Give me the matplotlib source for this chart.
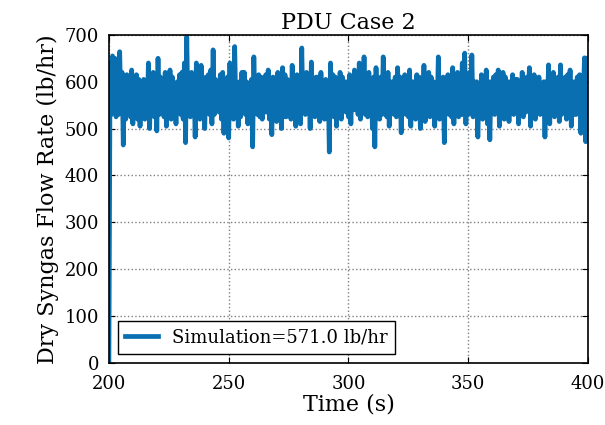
import matplotlib
matplotlib.use("Agg")
import matplotlib.pyplot as plt
import numpy as np

flow = [
    0, 640, 530, 655, 540, 650, 525, 630, 530, 664, 545, 620, 465, 600, 520, 615, 535, 610, 525, 625,
    510, 600, 530, 615, 520, 605, 505, 590, 535, 605, 520, 600, 540, 640, 500, 610, 530, 620, 525, 615,
    495, 650, 530, 610, 540, 600, 525, 620, 505, 595, 530, 625, 520, 610, 535, 590, 510, 600, 540, 615,
    530, 620, 520, 640, 470, 696, 535, 600, 525, 620, 530, 610, 482, 640, 540, 590, 520, 635, 525, 600,
    500, 610, 540, 615, 530, 625, 510, 668, 530, 605, 545, 600, 535, 615, 520, 620, 490, 600, 530, 610,
    480, 640, 535, 610, 520, 675, 540, 595, 505, 600, 525, 620, 540, 620, 530, 600, 510, 590, 520, 605,
    461, 653, 540, 600, 530, 615, 525, 610, 520, 600, 535, 615, 535, 625, 520, 600, 487, 610, 530, 595,
    515, 620, 540, 605, 500, 630, 525, 615, 525, 605, 540, 600, 520, 635, 530, 610, 505, 615, 535, 600,
    510, 672, 540, 600, 530, 620, 535, 600, 500, 642, 530, 595, 525, 610, 540, 610, 515, 620, 530, 600,
    520, 605, 530, 600, 450, 640, 540, 615, 525, 610, 505, 600, 535, 620, 520, 610, 540, 600, 535, 600,
    525, 615, 510, 605, 540, 625, 540, 615, 530, 640, 520, 600, 535, 653, 530, 610, 525, 620, 535, 600,
    500, 610, 461, 630, 540, 600, 520, 610, 530, 653, 545, 600, 525, 620, 505, 600, 535, 600, 530, 610,
    525, 630, 540, 610, 491, 600, 535, 615, 530, 610, 525, 625, 505, 600, 540, 600, 520, 615, 530, 610,
    500, 605, 540, 635, 515, 600, 535, 620, 525, 610, 530, 600, 505, 595, 540, 653, 520, 600, 535, 610,
    470, 600, 540, 615, 530, 610, 525, 630, 510, 600, 535, 620, 525, 610, 530, 640, 530, 661, 510, 600,
    530, 620, 540, 657, 525, 600, 535, 600, 482, 590, 535, 615, 520, 610, 530, 625, 510, 600, 476, 600,
    535, 610, 530, 615, 540, 625, 505, 600, 530, 620, 520, 610, 545, 600, 515, 600, 535, 615, 530, 605,
    540, 605, 510, 600, 530, 620, 525, 595, 535, 610, 540, 630, 505, 600, 535, 615, 520, 605, 540, 610,
    530, 590, 540, 600, 482, 600, 535, 636, 510, 610, 530, 620, 525, 600, 540, 610, 515, 636, 530, 600,
    535, 610, 520, 615, 540, 625, 505, 600, 530, 600, 530, 610, 540, 615, 490, 600, 560, 651, 472, 600,
    650,
]
t_start, t_step = 200.0, 0.5
time_s = t_start + t_step * np.arange(len(flow))
legend_label = "Simulation=571.0 lb/hr"
x_ticks = [200, 250, 300, 350, 400]
y_ticks = [0, 100, 200, 300, 400, 500, 600, 700]

plt.rcParams['font.family'] = ['DejaVu Serif']
fig = plt.figure(figsize=(6.05, 4.25), dpi=100)
ax = fig.add_axes([0.180, 0.146, 0.792, 0.772])
ax.plot(time_s, flow, color='#0a6fb0', lw=3.4, label=legend_label)
ax.set_xlim(200, 400)
ax.set_ylim(0, 700)
ax.set_xticks(x_ticks)
ax.set_yticks(y_ticks)
ax.tick_params(direction='in', top=True, right=True, labelsize=13, length=4)
ax.tick_params(axis='x', pad=9)
ax.tick_params(axis='y', pad=7)
ax.grid(True, linestyle=':', color='gray', linewidth=1.0)
for s in ax.spines.values():
    s.set_linewidth(1.2)
ax.set_xlabel('Time (s)', fontsize=16, labelpad=0)
ax.set_ylabel('Dry Syngas Flow Rate (lb/hr)', fontsize=16)
ax.set_title('PDU Case 2', fontsize=16, pad=4)
leg = ax.legend(loc='lower left', fontsize=13, fancybox=False, framealpha=1,
                edgecolor='black', handlelength=1.8, borderpad=0.4)
leg.get_frame().set_linewidth(1.0)
fig.savefig('out.png', dpi=100)
